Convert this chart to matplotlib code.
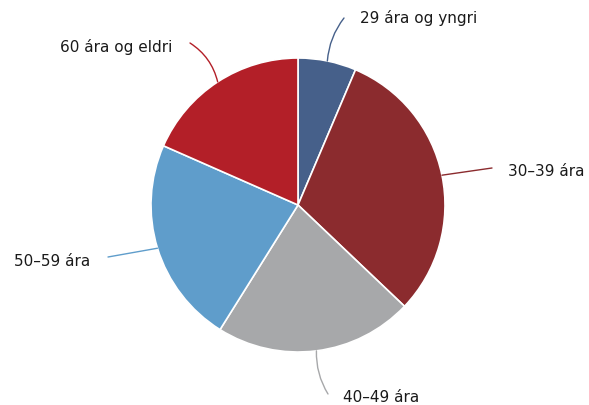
import numpy as np
import matplotlib
matplotlib.use('agg')
import matplotlib.pyplot as plt

labels = ['29 ára og yngri', '30–39 ára', '40–49 ára', '50–59 ára', '60 ára og eldri']
shares = [6.4, 30.7, 21.8, 22.7, 18.4]
colors = ['#46608a', '#8b2b2e', '#a7a8aa', '#5f9dcb', '#b31f28']

# label anchor (pixel coords, y from top) and alignment
label_pos = [(360, 18, 'left'), (508, 172, 'left'), (343, 397, 'left'),
             (90, 261, 'right'), (172, 47, 'right')]
line_end = [(344, 18), (492, 168), (328, 394), (108, 257), (190, 43)]
rads = [0.15, 0.0, -0.15, 0.0, -0.2]

W, H = 589, 405
fig = plt.figure(figsize=(W / 100, H / 100), dpi=100)
ax = fig.add_axes([0, 0, 1, 1])

cx, cy, r = 298, H - 205, 147
wedges, _ = ax.pie(shares, colors=colors, startangle=90, counterclock=False,
                   center=(cx, cy), radius=r,
                   wedgeprops=dict(edgecolor='white', linewidth=1.2))
ax.set_xlim(0, W)
ax.set_ylim(0, H)
ax.set_aspect('equal')
ax.axis('off')

for w, lab, (tx, ty, ha), (ex, ey), rad, c in zip(wedges, labels, label_pos, line_end, rads, colors):
    mid = np.deg2rad((w.theta1 + w.theta2) / 2)
    px, py = cx + r * np.cos(mid), cy + r * np.sin(mid)
    ax.annotate('', xy=(px, py), xytext=(ex, H - ey),
                arrowprops=dict(arrowstyle='-', color=c, lw=1,
                                connectionstyle='arc3,rad=%s' % rad,
                                shrinkA=0, shrinkB=0))
    ax.text(tx, H - ty, lab, ha=ha, va='center', fontsize=11, color='#1a1a1a')

fig.savefig('out.png', dpi=100)
